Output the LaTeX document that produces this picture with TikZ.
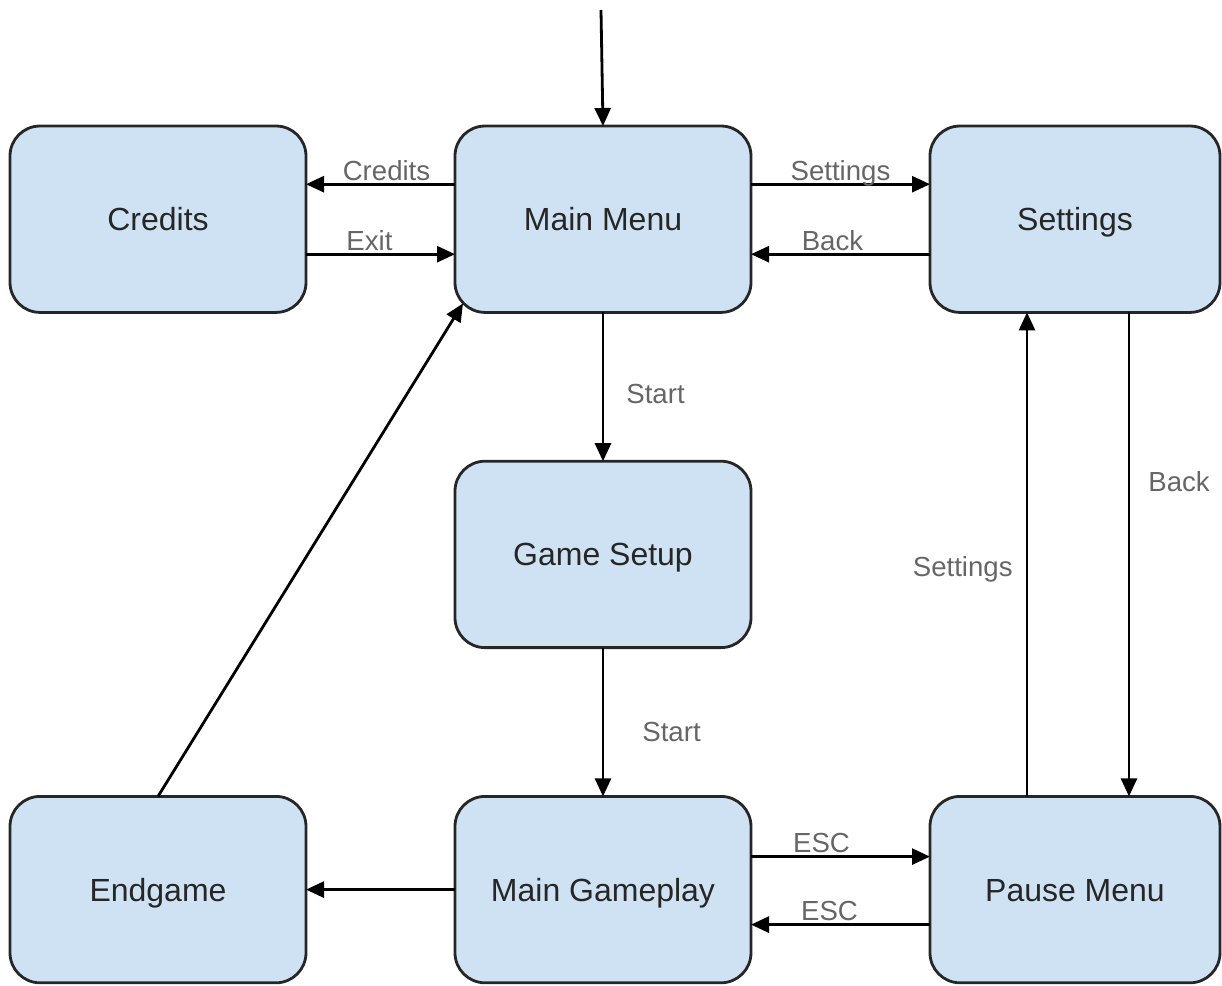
\documentclass[tikz,border=0pt]{standalone}
\usepackage{fontspec}
\setmainfont{Liberation Sans}
\usetikzlibrary{arrows.meta, calc, matrix, positioning}
\definecolor{boxblue}{HTML}{CFE2F3}
\definecolor{labelgray}{HTML}{666666}

\begin{document}
\begin{tikzpicture}[x=0.5pt, y=-0.5pt,
	state/.style={draw=black!85, fill=boxblue, line width=1.4pt, rounded corners=15pt,
		minimum width=148pt, minimum height=93.2pt, text height=11.5pt, text depth=0pt,
		text=black!85, font=\fontsize{16}{19}\selectfont},
	flow/.style={line width=1.4pt, -{Triangle[length=9pt, width=8pt]}},
	tag/.style={text=labelgray, font=\fontsize{13.8}{16}\selectfont, inner sep=0pt}]
	
	\useasboundingbox (0,0) rectangle (1222,986);
	
	\matrix(screens)[matrix of nodes, ampersand replacement=\&,
	inner sep=0pt, outer sep=0pt, anchor=north west,
	column sep=73.1pt, row sep=73pt,
	nodes={state, anchor=center}] at (8.6,124.6)
	{ % three columns of screens
		|(credits)| Credits \& |(mainmenu)| Main Menu \&[15pt] |[minimum width=145pt] (settings)| Settings \\
		\& |(setup)| Game Setup \& \\
		|(endgame)| Endgame \& |(gameplay)| Main Gameplay \& |[minimum width=145pt] (pause)| Pause Menu \\
	};
	
	% start
	\coordinate (entry) at (601,10);
	\draw[flow] (entry) -- (mainmenu.north);
	
	% top row
	\draw[flow] ($(mainmenu.west)+(0,-35)$) -- ($(credits.east)+(0,-35)$)
		node[tag, midway, anchor=base, yshift=2pt, xshift=3pt] {Credits};
	\draw[flow] ($(credits.east)+(0,35)$) -- ($(mainmenu.west)+(0,35)$)
		node[tag, midway, anchor=base, yshift=2pt, xshift=-5.5pt] {Exit};
	\draw[flow] ($(mainmenu.east)+(0,-35)$) -- ($(settings.west)+(0,-35)$)
		node[tag, midway, anchor=base, yshift=2pt] {Settings};
	\draw[flow] ($(settings.west)+(0,35)$) -- ($(mainmenu.east)+(0,35)$)
		node[tag, midway, anchor=base, yshift=2pt, xshift=-4pt] {Back};
	
	% middle column
	\draw[flow] (mainmenu) -- (setup) node[tag, midway, right=11pt, yshift=-3.5pt] {Start};
	\draw[flow] (setup) -- (gameplay) node[tag, midway, right=19pt, yshift=-5pt] {Start};
	
	% bottom row
	\draw[flow] ($(gameplay.east)+(0,-33)$) -- ($(pause.west)+(0,-33)$)
		node[tag, midway, anchor=base, yshift=2pt, xshift=-9.5pt] {ESC};
	\draw[flow] ($(pause.west)+(0,35)$) -- ($(gameplay.east)+(0,35)$)
		node[tag, midway, anchor=base, yshift=2pt, xshift=-5.5pt] {ESC};
	\draw[flow] (gameplay) -- (endgame);
	
	% right column
	\draw[flow] ($(pause.north)+(-48,0)$) -- ($(settings.south)+(-48,0)$)
		node[tag, pos=0.47, left=6.5pt] {Settings};
	\draw[flow] ($(settings.south)+(54,0)$) -- ($(pause.north)+(54,0)$)
		node[tag, pos=0.35, right=9pt] {Back};
	
	% back to menu
	\draw[flow] (endgame.north) -- ($(mainmenu.south west)+(8,-9)$);
	
\end{tikzpicture}
\end{document}
